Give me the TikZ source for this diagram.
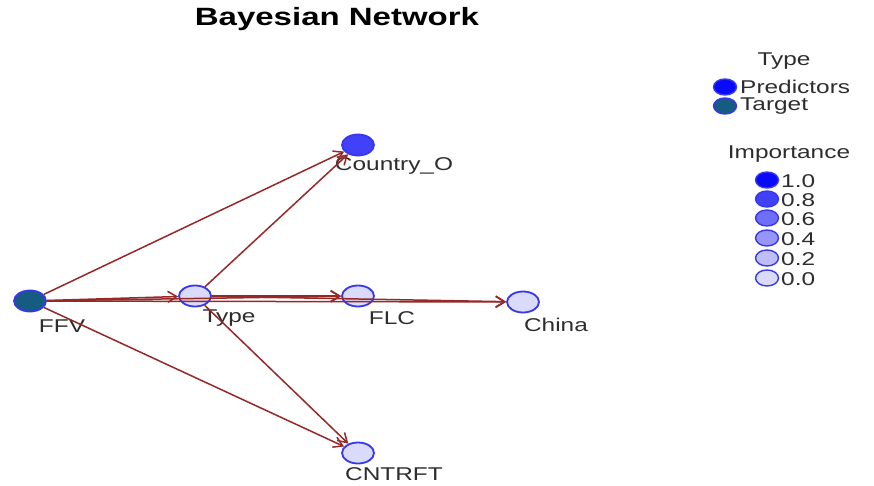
\documentclass[tikz,border=0pt]{standalone}
\usepackage{fontspec}
\setmainfont{Liberation Sans}
\newfontfamily\widesans[FakeStretch=1.32]{Liberation Sans}
\usetikzlibrary{shapes.geometric,arrows.meta}
\definecolor{edgered}{RGB}{150,40,40}
\definecolor{nodeline}{RGB}{55,55,235}
\definecolor{targetfill}{RGB}{22,92,128}
\definecolor{labelgray}{RGB}{45,45,45}
\definecolor{imp10}{RGB}{10,10,250}
\definecolor{imp08}{RGB}{65,65,250}
\definecolor{imp06}{RGB}{110,110,250}
\definecolor{imp04}{RGB}{150,150,250}
\definecolor{imp02}{RGB}{190,190,250}
\definecolor{imp00}{RGB}{218,218,250}
\tikzset{
  bnode/.style={ellipse, draw=nodeline, line width=1.8pt, minimum width=32pt, minimum height=21pt, inner sep=0pt},
  lnode/.style={ellipse, draw=nodeline, line width=1.4pt, minimum width=23pt, minimum height=16pt, inner sep=0pt},
  lbl/.style={text=labelgray, font=\widesans\fontsize{18.5}{20}\selectfont, inner sep=0pt},
  legtxt/.style={lbl, anchor=west},
  edge/.style={draw=edgered, line width=1.5pt, -{Straight Barb[length=9pt,width=11pt,line width=1.5pt]}}
}
\begin{document}
\begin{tikzpicture}[x=1pt,y=-1pt]
\useasboundingbox[fill=white] (0,0) rectangle (874,486);

% title
\node[font=\widesans\bfseries\fontsize{25}{28}\selectfont, inner sep=0pt] (title) at (337,19) {Bayesian Network};

% network nodes
\node[bnode, fill=targetfill] (ffv) at (30,301) {};
\node[bnode, fill=imp00] (type) at (195,296) {};
\node[bnode, fill=imp08] (country) at (358,145) {};
\node[bnode, fill=imp00] (flc) at (358,296) {};
\node[bnode, fill=imp00] (china) at (523,302) {};
\node[bnode, fill=imp00] (cntrft) at (358,453) {};

% node labels
\node[lbl] (ffvl) at (62,326) {FFV};
\node[lbl] (typel) at (229,318) {Type};
\node[lbl] (countryl) at (394,166) {Country\_O};
\node[lbl] (flcl) at (392,318) {FLC};
\node[lbl] (chinal) at (556,325) {China};
\node[lbl] (cntrftl) at (394,474) {CNTRFT};

% arcs
\draw[edge] (ffv) -- (type);
\draw[edge] (ffv) -- (country);
\draw[edge] (ffv) -- (flc);
\draw[edge] (ffv) -- (china);
\draw[edge] (ffv) -- (cntrft);
\draw[edge] (type) -- (country);
\draw[edge] (type) -- (flc);
\draw[edge] (type) -- (china);
\draw[edge] (type) -- (cntrft);

% legend: type
\node[lbl] (typehead) at (784,61) {Type};
\node[lnode, fill=imp10] (legpred) at (725,87) {};
\node[legtxt] (legpredt) at (740,87) {Predictors};
\node[lnode, fill=targetfill] (legtarg) at (725,106) {};
\node[legtxt] (legtargt) at (740,106) {Target};

% legend: importance
\node[lbl] (imphead) at (789,154) {Importance};
\node[lnode, fill=imp10] (i10) at (767,180) {};
\node[legtxt] (i10t) at (781,181) {1.0};
\node[lnode, fill=imp08] (i08) at (767,199) {};
\node[legtxt] (i08t) at (781,200) {0.8};
\node[lnode, fill=imp06] (i06) at (767,218) {};
\node[legtxt] (i06t) at (781,219) {0.6};
\node[lnode, fill=imp04] (i04) at (767,238) {};
\node[legtxt] (i04t) at (781,239) {0.4};
\node[lnode, fill=imp02] (i02) at (767,258) {};
\node[legtxt] (i02t) at (781,259) {0.2};
\node[lnode, fill=imp00] (i00) at (767,278) {};
\node[legtxt] (i00t) at (781,279) {0.0};
\end{tikzpicture}
\end{document}
